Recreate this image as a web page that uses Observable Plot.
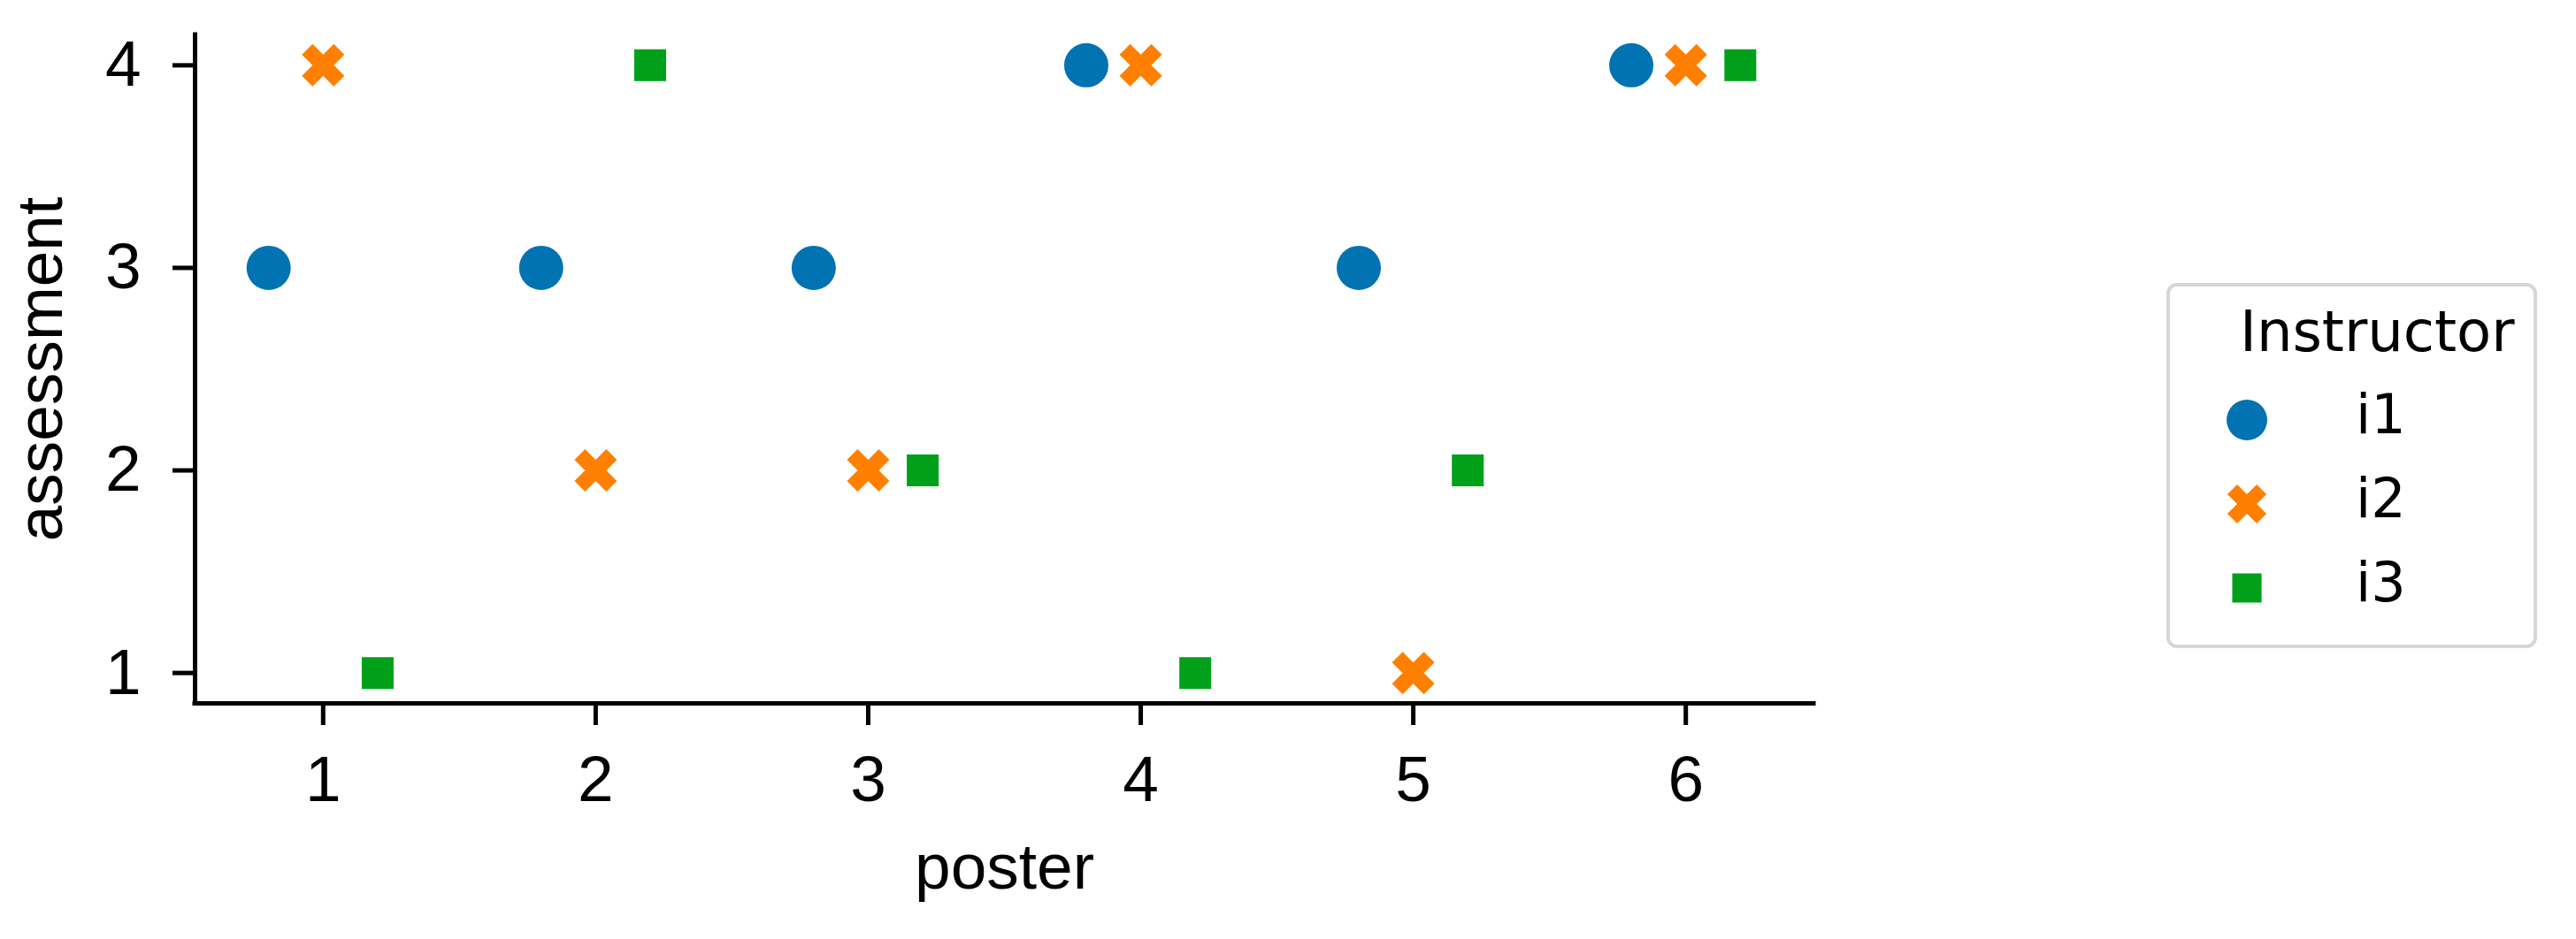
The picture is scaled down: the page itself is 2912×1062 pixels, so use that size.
<!DOCTYPE html>
<html><head><meta charset="utf-8">
<script src="https://cdn.jsdelivr.net/npm/d3@7"></script>
<script src="https://cdn.jsdelivr.net/npm/@observablehq/plot@0.6"></script>
<style>
html,body{margin:0;padding:0;background:#fff;}
#wrap{position:relative;width:2912px;height:1062px;overflow:hidden;}
#legend{position:absolute;left:2449px;top:320px;}
</style></head><body><div id="wrap"></div>
<script>
// ---- data ----
const posters = [1, 2, 3, 4, 5, 6];
const instructors = ["i1", "i2", "i3"];
const scoresI1 = [3, 3, 3, 4, 3, 4];
const scoresI2 = [4, 2, 2, 4, 1, 4];
const scoresI3 = [1, 4, 2, 1, 2, 4];
const xTicks = [1, 2, 3, 4, 5, 6];
const yTicks = [1, 2, 3, 4];
const xLabel = "poster";
const yLabel = "assessment";
const legendTitle = "Instructor";

// ---- styling / layout ----
const colors = ["#0173b2", "#ff7f00", "#00a01a"];
const dodge = [-0.2, 0, 0.2];
const xDomain = [0.53, 6.47];
const yDomain = [0.85, 4.15];

const xShape = {
  draw(ctx, size) {
    const h = Math.sqrt(size / Math.PI) * 0.96 * 2;
    const u = [[-0.25,-0.5],[0,-0.25],[0.25,-0.5],[0.5,-0.25],[0.25,0],[0.5,0.25],
               [0.25,0.5],[0,0.25],[-0.25,0.5],[-0.5,0.25],[-0.25,0],[-0.5,-0.25]];
    u.forEach(([a, b], i) => i ? ctx.lineTo(a * h, b * h) : ctx.moveTo(a * h, b * h));
    ctx.closePath();
  }
};
const squareShape = {
  draw(ctx, size) {
    const h = Math.sqrt(size / Math.PI) * 0.72;
    ctx.rect(-h, -h, 2 * h, 2 * h);
  }
};
const shapes = [d3.symbolCircle, xShape, squareShape];

const seriesScores = [scoresI1, scoresI2, scoresI3];
const rows = [];
instructors.forEach((ins, k) => {
  posters.forEach((p, j) => rows.push({poster: p, instructor: ins, k, score: seriesScores[k][j]}));
});

const font = "'Liberation Sans', Arial, sans-serif";
const chart = Plot.plot({
  width: 2912,
  height: 1062,
  marginLeft: 220,
  marginRight: 862,
  marginTop: 39,
  marginBottom: 267,
  style: {fontFamily: font, color: "#000", background: "#fff", overflow: "visible"},
  x: {domain: xDomain},
  y: {domain: yDomain},
  color: {domain: instructors, range: colors},
  symbol: {domain: instructors, range: shapes},
  marks: [
    Plot.axisX(xTicks, {tickSize: 25, tickPadding: 34, strokeWidth: 5, fontSize: 73, tickFormat: d => String(d),
      label: xLabel, labelAnchor: "center", labelOffset: 209, labelArrow: "none"}),
    Plot.axisY(yTicks, {tickSize: 25, tickPadding: 36, strokeWidth: 5, fontSize: 73, tickFormat: d => String(d),
      label: yLabel, labelAnchor: "center", labelOffset: 202, labelArrow: "none"}),
    Plot.dot(rows, {x: d => d.poster + dodge[d.k], y: "score", fill: "instructor",
      symbol: "instructor", r: 25, stroke: "none"}),
    Plot.ruleX([xDomain[0]], {strokeWidth: 5, strokeLinecap: "square"}),
    Plot.ruleY([yDomain[0]], {strokeWidth: 5, strokeLinecap: "square"})
  ]
});
const wrap = document.getElementById("wrap");
wrap.appendChild(chart);

// ---- legend ----
const lg = d3.select(wrap).append("svg").attr("id", "legend")
  .attr("width", 419).attr("height", 413)
  .style("font-family", "'DejaVu Sans', sans-serif");
lg.append("rect").attr("x", 2).attr("y", 2).attr("width", 415).attr("height", 409)
  .attr("rx", 10).attr("fill", "#fff").attr("stroke", "#d6d6d6").attr("stroke-width", 4);
lg.append("text").attr("x", 83).attr("y", 77).attr("font-size", 64).attr("fill", "#000").text(legendTitle);
instructors.forEach((ins, k) => {
  const cy = 155 + 95 * k;
  lg.append("path").attr("transform", `translate(91,${cy})`)
    .attr("d", d3.symbol(shapes[k], Math.PI * 23 * 23)()).attr("fill", colors[k]);
  lg.append("text").attr("x", 214).attr("y", cy + 15).attr("font-size", 62).attr("fill", "#000").text(ins);
});
</script></body></html>
